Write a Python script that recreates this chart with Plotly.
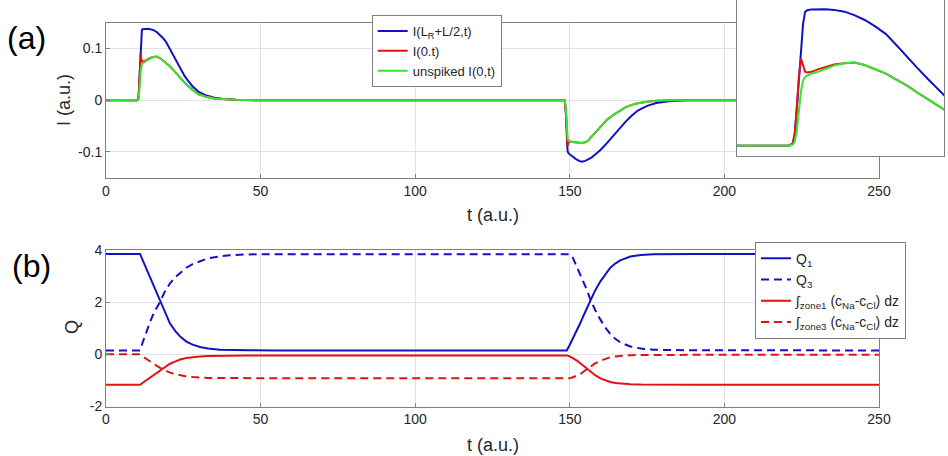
import plotly.graph_objects as go

# ---------------- data: panel (a) ----------------
t_a = [0, 10, 10.4, 10.6, 10.8, 11.0, 11.2, 11.4, 11.6, 11.8,
       12.2, 12.9, 13.6, 14.4, 15.4, 16.4, 17.4, 18.4, 19.4, 20.4,
       21.4, 22.4, 23.4, 24.4, 25.4, 26.5, 28, 30, 32.5, 35,
       38, 42, 48, 148.4, 148.8, 149.1, 149.3, 149.6, 150, 151,
       152, 153, 154, 155, 156, 157, 158, 159, 160, 162,
       164, 166, 168, 170, 172, 175, 178, 182, 188, 250]

I_mid = [0, 0, 0.002, 0.012, 0.038, 0.07, 0.1, 0.123, 0.1355, 0.1372,
         0.1378, 0.138, 0.1382, 0.1375, 0.1357, 0.132, 0.127, 0.1205, 0.113, 0.102,
         0.09, 0.079, 0.068, 0.057, 0.047, 0.038, 0.027, 0.016, 0.009, 0.005,
         0.0025, 0.001, 0, 0, -0.03, -0.08, -0.099, -0.103, -0.105, -0.109,
         -0.114, -0.1175, -0.119, -0.1175, -0.115, -0.111, -0.106, -0.1015, -0.096, -0.083,
         -0.069, -0.055, -0.042, -0.03, -0.02, -0.011, -0.0055, -0.002, 0, 0]

I_0 = [0, 0, 0.002, 0.012, 0.038, 0.07, 0.088, 0.08, 0.075, 0.0742,
       0.0748, 0.0775, 0.0795, 0.0822, 0.0835, 0.0843, 0.0815, 0.077, 0.073, 0.067,
       0.061, 0.054, 0.047, 0.04, 0.034, 0.028, 0.02, 0.0115, 0.0065, 0.0035,
       0.0018, 0.0008, 0, 0, -0.03, -0.082, -0.088, -0.081, -0.08, -0.081,
       -0.082, -0.083, -0.083, -0.0815, -0.078, -0.071, -0.064, -0.057, -0.051, -0.038,
       -0.029, -0.021, -0.014, -0.009, -0.006, -0.003, -0.0012, -0.0003, 0, 0]

I_unspiked = [0, 0, 0.001, 0.004, 0.015, 0.035, 0.055, 0.066, 0.0695, 0.071,
              0.0728, 0.075, 0.078, 0.0812, 0.0835, 0.0843, 0.0815, 0.077, 0.073, 0.067,
              0.061, 0.054, 0.047, 0.04, 0.034, 0.028, 0.02, 0.0115, 0.0065, 0.0035,
              0.0018, 0.0008, 0, 0, -0.02, -0.058, -0.075, -0.079, -0.08, -0.081,
              -0.082, -0.083, -0.083, -0.0815, -0.078, -0.071, -0.064, -0.057, -0.051, -0.038,
              -0.029, -0.021, -0.014, -0.009, -0.006, -0.003, -0.0012, -0.0003, 0, 0]

names_a = ["I(L<sub>R</sub>+L/2,t)", "I(0.t)", "unspiked I(0,t)"]

# ---------------- data: panel (b) ----------------
t_b = [0, 11, 12, 13, 14.2, 15.5, 17.5, 19, 20.7, 22.5,
       24, 26, 28, 30.4, 33, 36.9, 40, 46, 55, 149,
       150, 151, 152.3, 153.4, 154.5, 155.6, 156.6, 158.2, 159.9, 161.5,
       163.1, 164.7, 166.3, 169.6, 173, 177, 182, 190, 250]

Q1 = [3.85, 3.85, 3.57, 3.29, 2.95, 2.59, 2.03, 1.6, 1.18, 0.88,
      0.68, 0.49, 0.37, 0.28, 0.22, 0.18, 0.165, 0.155, 0.15, 0.15,
      0.37, 0.6, 0.9, 1.2, 1.5, 1.8, 2.07, 2.45, 2.8, 3.08,
      3.32, 3.48, 3.6, 3.75, 3.81, 3.84, 3.85, 3.85, 3.85]

Q3 = [0.15, 0.15, 0.5, 0.85, 1.22, 1.6, 2.02, 2.4, 2.72, 2.97,
      3.12, 3.32, 3.46, 3.58, 3.68, 3.76, 3.8, 3.83, 3.84, 3.84,
      3.84, 3.7, 3.35, 3.05, 2.75, 2.45, 2.12, 1.7, 1.33, 1.02,
      0.78, 0.6, 0.46, 0.3, 0.22, 0.18, 0.165, 0.155, 0.15]

zone1 = [-1.165, -1.165, -1.08, -0.995, -0.9, -0.79, -0.62, -0.49, -0.36, -0.27,
         -0.2, -0.14, -0.105, -0.08, -0.06, -0.05, -0.045, -0.04, -0.04, -0.04,
         -0.08, -0.14, -0.24, -0.34, -0.45, -0.57, -0.67, -0.8, -0.92, -1.0,
         -1.06, -1.1, -1.125, -1.15, -1.16, -1.165, -1.165, -1.165, -1.165]

zone3 = [0, 0, -0.09, -0.18, -0.27, -0.37, -0.52, -0.61, -0.7, -0.76,
         -0.81, -0.85, -0.87, -0.895, -0.905, -0.91, -0.915, -0.915, -0.915, -0.915,
         -0.915, -0.88, -0.82, -0.76, -0.66, -0.56, -0.46, -0.35, -0.25, -0.17,
         -0.11, -0.08, -0.06, -0.035, -0.025, -0.02, -0.02, -0.02, -0.02]

names_b = ["Q<sub>1</sub>", "Q<sub>3</sub>",
           "∫<sub>zone1</sub> (c<sub>Na</sub>-c<sub>Cl</sub>) dz",
           "∫<sub>zone3</sub> (c<sub>Na</sub>-c<sub>Cl</sub>) dz"]

x_ticks = [0, 50, 100, 150, 200, 250]
ya_ticks = [-0.1, 0, 0.1]
ya_text = ["-0.1", "0", "0.1"]
yb_ticks = [-2, 0, 2, 4]
yb_text = ["-2", "0", "2", "4"]

inset_x_range = [5, 25]
inset_y_range = [-0.0101, 0.1475]

# ---------------- style ----------------
BLUE = "#1212c4"
RED = "#e31212"
GREEN = "#33e633"
FONT = "Liberation Sans, Arial, Helvetica, sans-serif"
TXT = "#262626"
AX = "#808080"
GRID = "#e2e2e2"
W, H = 948, 456

fig = go.Figure()

series_a = [(I_mid, BLUE), (I_0, RED), (I_unspiked, GREEN)]
for (vals, col), nm in zip(series_a, names_a):
    fig.add_trace(go.Scatter(x=t_a, y=vals, mode="lines", name=nm,
                             line=dict(color=col, width=2),
                             xaxis="x", yaxis="y", legend="legend"))

series_b = [(Q1, BLUE, "solid"), (Q3, BLUE, "8px,5px"),
            (zone1, RED, "solid"), (zone3, RED, "8px,5px")]
for (vals, col, dash), nm in zip(series_b, names_b):
    fig.add_trace(go.Scatter(x=t_b, y=vals, mode="lines", name=nm,
                             line=dict(color=col, width=2, dash=dash),
                             xaxis="x2", yaxis="y2", legend="legend2"))

# inset background (white panel covering the main axes beneath it)
x0, x1 = inset_x_range
y0, y1 = inset_y_range
fig.add_trace(go.Scatter(x=[x0, x1, x1, x0, x0], y=[y0, y0, y1, y1, y0],
                         mode="lines", fill="toself", fillcolor="white",
                         line=dict(width=0, color="white"), hoverinfo="skip",
                         showlegend=False, xaxis="x3", yaxis="y3"))
# inset (zoom of the first pulse)
for vals, col in series_a:
    fig.add_trace(go.Scatter(x=t_a, y=vals, mode="lines", showlegend=False,
                             line=dict(color=col, width=2),
                             xaxis="x3", yaxis="y3"))

xdom = [106 / W, 879 / W]
common_x = dict(domain=xdom, range=[0, 250], tickvals=x_ticks, automargin=False,
                showline=True, mirror=True, linecolor=AX, linewidth=1,
                showgrid=True, gridcolor=GRID, gridwidth=1, zeroline=False,
                ticks="inside", ticklen=4, tickcolor=AX,
                tickfont=dict(family=FONT, size=14, color=TXT))
common_y = dict(showline=True, mirror=True, linecolor=AX, linewidth=1, automargin=False,
                showgrid=True, gridcolor=GRID, gridwidth=1, zeroline=False,
                ticks="inside", ticklen=4, tickcolor=AX,
                tickfont=dict(family=FONT, size=14, color=TXT))
inset_ax = dict(showline=True, mirror=True, linecolor=AX, linewidth=1, automargin=False,
                showgrid=False, zeroline=False, showticklabels=False, ticks="")

fig.update_layout(
    width=W, height=H, margin=dict(l=0, r=0, t=0, b=0, pad=0, autoexpand=False),
    paper_bgcolor="white", plot_bgcolor="white",
    font=dict(family=FONT, size=14, color=TXT),
    xaxis=dict(anchor="y", **common_x),
    yaxis=dict(anchor="x", domain=[1 - 177.7 / H, 1 - 22.7 / H],
               range=[-0.15, 0.15], tickvals=ya_ticks, ticktext=ya_text, **common_y),
    xaxis2=dict(anchor="y2", **common_x),
    yaxis2=dict(anchor="x2", domain=[1 - 406.5 / H, 1 - 250 / H],
                range=[-2, 4], tickvals=yb_ticks, ticktext=yb_text, **common_y),
    xaxis3=dict(anchor="y3", domain=[736.7 / W, 944 / W], range=inset_x_range, **inset_ax),
    yaxis3=dict(anchor="x3", domain=[1 - 155.7 / H, 1.0], range=inset_y_range, **inset_ax),
    legend=dict(x=371.7 / W, y=1 - 15 / H, xanchor="left", yanchor="top",
                bgcolor="white", bordercolor=AX, borderwidth=1,
                font=dict(family=FONT, size=13, color=TXT), tracegroupgap=0),
    legend2=dict(x=755 / W, y=1 - 241.7 / H, xanchor="left", yanchor="top",
                 bgcolor="white", bordercolor=AX, borderwidth=1,
                 font=dict(family=FONT, size=14, color=TXT), tracegroupgap=0),
    showlegend=True,
)

def ann(text, x, y, size, angle=0, xanchor="center"):
    fig.add_annotation(text=text, x=x / W, y=1 - y / H, xref="paper", yref="paper",
                       showarrow=False, textangle=angle, xanchor=xanchor, yanchor="middle",
                       font=dict(family=FONT, size=size, color="black" if size > 20 else TXT))

ann("(a)", 5, 38, 32, xanchor="left")
ann("(b)", 10, 266, 32, xanchor="left")
ann("t (a.u.)", 493, 215, 18)
ann("t (a.u.)", 493, 445, 18)
ann("I (a.u.)", 64, 100, 18, angle=-90)
ann("Q", 72, 327, 18, angle=-90)

fig.write_html("out.html")
